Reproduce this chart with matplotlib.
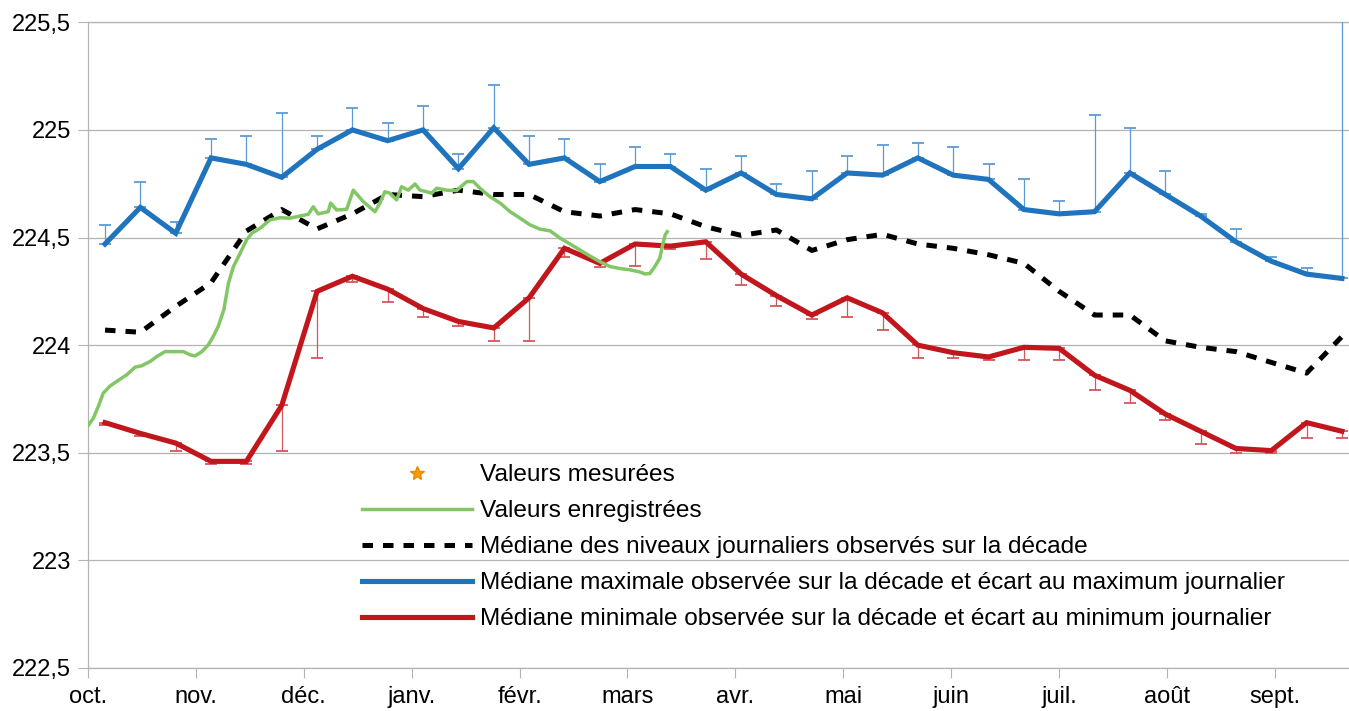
import matplotlib
matplotlib.use("Agg")
import matplotlib.pyplot as plt
from matplotlib.lines import Line2D
import numpy as np

plt.rcParams['font.family'] = ['Liberation Sans', 'DejaVu Sans']

# ---------------- data ----------------
months = ["oct.", "nov.", "déc.", "janv.", "févr.", "mars", "avr.", "mai",
          "juin", "juil.", "août", "sept."]
yticks = [222.5, 223, 223.5, 224, 224.5, 225, 225.5]
ytick_labels = ["222,5", "223", "223,5", "224", "224,5", "225", "225,5"]

# decade medians (36 decades, Oct -> Sept)
median_max = [224.47, 224.64, 224.52, 224.87, 224.84, 224.78, 224.91, 225.00, 224.95, 225.00,
              224.82, 225.01, 224.84, 224.87, 224.76, 224.83, 224.83, 224.72, 224.80, 224.70,
              224.68, 224.80, 224.79, 224.87, 224.79, 224.77, 224.63, 224.61, 224.62, 224.80,
              224.70, 224.60, 224.48, 224.39, 224.33, 224.31]
daily_max = [224.56, 224.76, 224.57, 224.96, 224.97, 225.08, 224.97, 225.10, 225.03, 225.11,
             224.89, 225.21, 224.97, 224.96, 224.84, 224.92, 224.89, 224.82, 224.88, 224.75,
             224.81, 224.88, 224.93, 224.94, 224.92, 224.84, 224.77, 224.67, 225.07, 225.01,
             224.81, 224.61, 224.54, 224.41, 224.36, 225.62]
median_all = [224.07, 224.06, 224.18, 224.29, 224.53, 224.63, 224.54, 224.61, 224.70, 224.69,
              224.72, 224.70, 224.70, 224.62, 224.60, 224.63, 224.61, 224.55, 224.51, 224.535,
              224.44, 224.49, 224.515, 224.47, 224.45, 224.42, 224.38, 224.25, 224.14, 224.14,
              224.02, 223.99, 223.97, 223.92, 223.87, 224.04]
median_min = [223.64, 223.59, 223.545, 223.46, 223.46, 223.72, 224.25, 224.32, 224.26, 224.17,
              224.11, 224.08, 224.22, 224.45, 224.38, 224.47, 224.46, 224.48, 224.33, 224.23,
              224.14, 224.22, 224.15, 224.00, 223.965, 223.945, 223.99, 223.985, 223.86, 223.79,
              223.68, 223.60, 223.52, 223.51, 223.64, 223.60]
daily_min = [223.63, 223.58, 223.51, 223.45, 223.45, 223.51, 223.94, 224.295, 224.20, 224.13,
             224.09, 224.02, 224.02, 224.41, 224.365, 224.37, 224.445, 224.40, 224.28, 224.18,
             224.12, 224.13, 224.07, 223.94, 223.94, 223.93, 223.93, 223.93, 223.79, 223.73,
             223.65, 223.54, 223.50, 223.50, 223.57, 223.57]

# recorded values (days since 1 Oct)
green_days = [0, 1.5, 2.9, 4.3, 6.2, 8.5, 10.9, 13.3, 15.1, 17.5, 19.4, 21.7, 26.9, 28.8, 30.2,
              32.1, 33.9, 35.3, 36.7, 38.3, 39.1, 39.6, 41.0, 42.9, 44.7, 46.2, 48.5, 51.3, 54.1,
              56.9, 59.8, 62.1, 63.5, 64.9, 67.7, 68.4, 70.1, 72.9, 74.8, 77.6, 80.9, 82.3, 83.7,
              85.1, 87.0, 88.4, 90.3, 92.2, 93.6, 95.5, 96.9, 98.3, 101.1, 103.9, 105.4, 106.8,
              108.6, 110.5, 113.3, 116.2, 119.0, 121.8, 124.6, 127.4, 130.3, 133.1, 135.9, 138.7,
              141.5, 144.3, 147.2, 150.0, 152.8, 155.6, 157.0, 158.4, 159.8, 161.2, 162.0, 162.7,
              163.3]
green_values = [223.626, 223.66, 223.715, 223.777, 223.81, 223.836, 223.862, 223.898, 223.904,
                223.924, 223.947, 223.97, 223.97, 223.955, 223.95, 223.97, 224.001, 224.04,
                224.087, 224.164, 224.241, 224.288, 224.365, 224.427, 224.489, 224.52, 224.543,
                224.582, 224.592, 224.59, 224.60, 224.608, 224.643, 224.61, 224.62, 224.66,
                224.628, 224.631, 224.72, 224.667, 224.62, 224.66, 224.713, 224.706, 224.675,
                224.736, 224.72, 224.749, 224.72, 224.713, 224.706, 224.729, 224.72, 224.718,
                224.74, 224.76, 224.76, 224.729, 224.69, 224.66, 224.62, 224.59, 224.559,
                224.539, 224.531, 224.497, 224.47, 224.442, 224.414, 224.388, 224.365, 224.356,
                224.35, 224.34, 224.331, 224.333, 224.365, 224.404, 224.466, 224.512, 224.527]

measured_days = []
measured_values = []

labels = ["Valeurs mesurées", "Valeurs enregistrées",
          "Médiane des niveaux journaliers observés sur la décade",
          "Médiane maximale observée sur la décade et écart au maximum journalier",
          "Médiane minimale observée sur la décade et écart au minimum journalier"]

# ---------------- layout ----------------
W, H = 1349, 711
fig = plt.figure(figsize=(W / 100, H / 100), dpi=100)
ax_left, ax_right, ax_top, ax_bot = 88, 1382.7, 22.3, 668
ax = fig.add_axes([ax_left / W, 1 - ax_bot / H, (ax_right - ax_left) / W, (ax_bot - ax_top) / H])

year_days = 365
month_pos = np.arange(12) * year_days / 12
dec_first, dec_step = 4.8, 9.963
x_dec = dec_first + np.arange(len(median_max)) * dec_step

c_blue, c_blue_e = '#1f74bd', '#5b9bd5'
c_red, c_red_e = '#c2161d', '#d4575c'
c_green = '#83c665'
grid_c = '#b3b3b3'

mmax = np.array(median_max); dmax = np.array(daily_max)
mmin = np.array(median_min); dmin = np.array(daily_min)

ax.errorbar(x_dec, mmax, yerr=[np.zeros_like(mmax), dmax - mmax], fmt='none',
            ecolor=c_blue_e, elinewidth=0.9, capsize=4.3, capthick=1.3, zorder=3)
ax.plot(x_dec, mmax, color=c_blue, lw=3.7, solid_joinstyle='miter', zorder=4)

ax.errorbar(x_dec, mmin, yerr=[mmin - dmin, np.zeros_like(mmin)], fmt='none',
            ecolor=c_red_e, elinewidth=0.9, capsize=4.3, capthick=1.3, zorder=3)
ax.plot(x_dec, mmin, color=c_red, lw=3.7, solid_joinstyle='miter', zorder=5)

ax.plot(x_dec, median_all, color='black', lw=3.6, dashes=(2.1, 2.0),
        dash_capstyle='butt', zorder=4.5)

ax.plot(green_days, green_values, color=c_green, lw=2.5, zorder=6)
ax.plot(measured_days, measured_values, ls='none', marker='*', color='#ff9900', ms=10, zorder=7)

ax.set_xlim(0, year_days)
ax.set_ylim(222.5, 225.5)
ax.set_xticks(month_pos)
ax.set_xticklabels(months)
ax.set_yticks(yticks)
ax.set_yticklabels(ytick_labels)
ax.tick_params(axis='both', direction='out', length=7.2, width=0.8, color=grid_c,
               labelsize=17, labelcolor='black')
ax.tick_params(axis='y', pad=5)
ax.tick_params(axis='x', pad=6)
ax.yaxis.grid(True, color=grid_c, lw=0.9)
ax.set_axisbelow(True)
for s in ['left', 'bottom', 'top']:
    ax.spines[s].set_color(grid_c)
    ax.spines[s].set_linewidth(0.9)
ax.spines['right'].set_visible(False)

handles = [Line2D([], [], ls='none', marker='*', color='#ff9900', mec='#e68a00', ms=10),
           Line2D([], [], color=c_green, lw=2.5),
           Line2D([], [], color='black', lw=3.6, dashes=(2.1, 2.0), dash_capstyle='butt'),
           Line2D([], [], color=c_blue, lw=3.7),
           Line2D([], [], color=c_red, lw=3.7)]
leg = fig.legend(handles, labels, loc='upper left', bbox_to_anchor=(362 / W, 1 - 464 / H),
                 bbox_transform=fig.transFigure, frameon=False, fontsize=17.6,
                 handlelength=4.5, handletextpad=0.33, labelspacing=0.57,
                 borderpad=0, borderaxespad=0, numpoints=1)

fig.savefig("out.png", dpi=100)
